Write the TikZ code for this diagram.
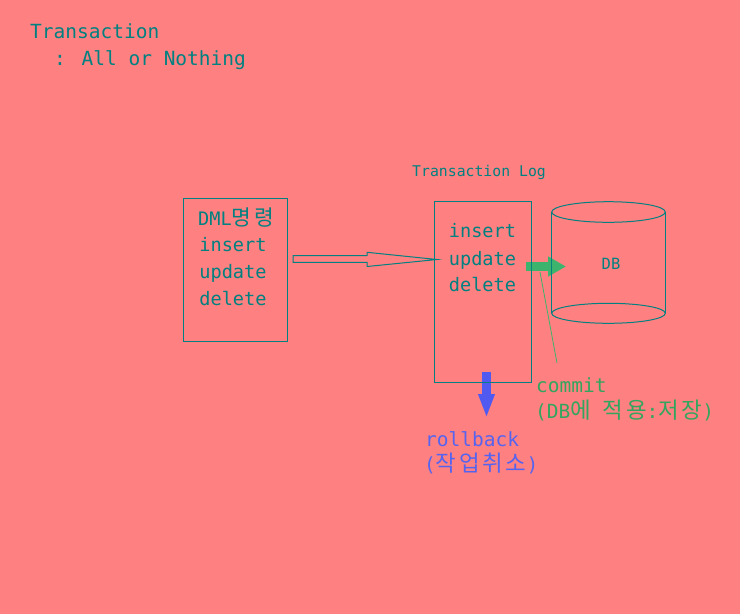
\documentclass[tikz,border=0pt]{standalone}
\usepackage{fontspec}
\setmainfont{DejaVu Sans Mono}
\newfontfamily\kr[Scale=1.15,LetterSpace=12]{Noto Sans CJK KR}
\usepackage{tikz}
\usetikzlibrary{arrows.meta,%
                positioning}
\definecolor{bgred}{RGB}{255,128,128}
\definecolor{logteal}{RGB}{0,128,128}
\definecolor{commitgreen}{RGB}{60,180,110}
\definecolor{committext}{RGB}{50,165,95}
\definecolor{rollblue}{RGB}{80,90,240}
\definecolor{rolltext}{RGB}{85,100,240}

\begin{document}
\begin{tikzpicture}[x=1pt,y=-1pt,
  every node/.style={inner sep=0pt,text=logteal},
  txtbig/.style={anchor=base,font=\fontsize{18.6}{22}\selectfont},
  txttitle/.style={anchor=base west,font=\fontsize{19.5}{23}\selectfont},
  txtsmall/.style={anchor=base west,font=\fontsize{14.8}{18}\selectfont},
  tbox/.style={draw=logteal,line width=1pt},
  commitarrow/.style={commitgreen,line width=9.5pt,-{Triangle[length=18pt,width=19pt]}},
  rollarrow/.style={rollblue,line width=9pt,-{Triangle[length=24pt,width=15pt]}},
  pointer/.style={commitgreen,line width=0.8pt}]
\fill[bgred] (0,0) rectangle (740,614);
\useasboundingbox (0,0) rectangle (740,614);

\node[txttitle] (title) at (30,38) {Transaction};
\node[txttitle] (motto) at (54,65) {: All or Nothing};
\node[txtsmall] (logtitle) at (412,176) {Transaction Log};

\coordinate (gstart) at (526,266.5);
\coordinate (gend) at (566,266.5);
\draw[commitarrow] (gstart) -- (gend);
\coordinate (bstart) at (486.5,371.5);
\coordinate (bend) at (486.5,418);
\draw[rollarrow] (bstart) -- (bend);

\node[tbox,minimum width=104pt,minimum height=143pt] (dml) at (235,269.5) {};
\node[txtbig] (dml1) at (236,225) {DML{\kr 명령}};
\node[txtbig] (dml2) at (233,251.7) {insert};
\node[txtbig] (dml3) at (233,278.3) {update};
\node[txtbig] (dml4) at (233,305.3) {delete};

\node[tbox,minimum width=97.5pt,minimum height=181pt] (log) at (482.75,291.5) {};
\node[txtbig] (log1) at (482.5,237.7) {insert};
\node[txtbig] (log2) at (482.5,265) {update};
\node[txtbig] (log3) at (482.5,291.7) {delete};

\coordinate (dmlout) at (293,259);
\coordinate (login) at (437,259.5);
\draw[logteal,line width=1pt,fill=bgred] (dmlout) ++(0,-3.3) -- (367,255.7) -- (367,252.3)
  -- (login) -- (367,266.5) -- (367,262.3) -- (293,262.3) -- cycle;

\draw[logteal,line width=1pt] (608.5,212) ellipse [x radius=56.8,y radius=10.3];
\draw[logteal,line width=1pt] (608.5,313.3) ellipse [x radius=56.8,y radius=10];
\draw[logteal,line width=1pt] (551.7,212) -- (551.7,313.3);
\draw[logteal,line width=1pt] (665.3,212) -- (665.3,313.3);
\node[anchor=base,font=\fontsize{15.5}{18}\selectfont] (db) at (611,269) {DB};

\coordinate (ptrtop) at (540,272);
\coordinate (ptrend) at (557,363);
\draw[pointer] (ptrtop) -- (ptrend);

\node[txttitle,text=committext] (commit) at (536,392) {commit};
\node[txttitle,text=committext] (commitkr) at (535,418.3) {(DB{\kr 에} {\kr 적용}:{\kr 저장})};
\node[txttitle,text=rolltext] (rollback) at (425,446) {rollback};
\node[txttitle,text=rolltext] (rollbackkr) at (424,471) {({\kr 작업취소})};
\end{tikzpicture}
\end{document}
